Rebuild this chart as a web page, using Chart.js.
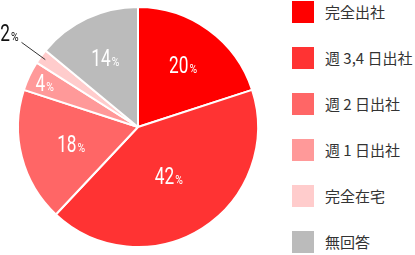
<!DOCTYPE html>
<html><head><meta charset="utf-8">
<script src="https://cdn.jsdelivr.net/npm/chart.js@4/dist/chart.umd.min.js"></script>
<style>
html,body{margin:0;padding:0;background:#fff;width:415px;height:255px;overflow:hidden;}
#wrap{position:absolute;left:0;top:0;width:280px;height:255px;}
#legend{position:absolute;left:292px;top:0;width:123px;height:255px;font-family:"Noto Sans CJK JP","Noto Sans",sans-serif;font-size:15px;color:#333;}
.item{position:absolute;left:0;height:22px;white-space:nowrap;}
.sw{position:absolute;left:0;top:0;width:22px;height:22px;}
.tx{position:absolute;left:33px;top:0;line-height:22px;}
</style></head>
<body>
<div id="wrap"><canvas id="c"></canvas></div>
<div id="legend"></div>
<script>
const categories = ["完全出社", "週 3,4 日出社", "週 2 日出社", "週 1 日出社", "完全在宅", "無回答"];
const values = [20, 42, 18, 4, 2, 14];
const colors = ["#ff0000", "#ff3333", "#ff6666", "#ff9999", "#ffcccc", "#bbbbbb"];

const pctLabels = {
  id: 'pctLabels',
  afterDatasetsDraw(chart, args, opts) {
    const ctx = chart.ctx;
    const meta = chart.getDatasetMeta(0);
    const data = chart.data.datasets[0].data;
    const sx = opts.squeeze;
    meta.data.forEach((arc, i) => {
      const p = arc.getProps(['x', 'y', 'startAngle', 'endAngle', 'outerRadius'], true);
      const mid = (p.startAngle + p.endAngle) / 2;
      const num = String(data[i]);
      ctx.save();
      ctx.textBaseline = 'alphabetic';
      ctx.textAlign = 'left';
      ctx.font = opts.numFont; const wN = ctx.measureText(num).width * sx;
      ctx.font = opts.pctFont; const wP = ctx.measureText('%').width * opts.pctSqueeze;
      const gap = 1;
      let left, base;
      if (opts.outside.includes(i)) {
        const r1 = p.outerRadius * 0.955, r2 = p.outerRadius * 1.2;
        const x1 = p.x + Math.cos(mid) * r1, y1 = p.y + Math.sin(mid) * r1;
        const x2 = p.x + Math.cos(mid) * r2, y2 = p.y + Math.sin(mid) * r2;
        ctx.strokeStyle = '#333'; ctx.lineWidth = 1;
        ctx.beginPath(); ctx.moveTo(x1, y1); ctx.lineTo(x2, y2); ctx.stroke();
        left = x2 - 3 - (wN + gap + wP);
        base = y2 - 1;
        ctx.fillStyle = '#111';
      } else {
        const r = p.outerRadius * opts.radii[i];
        const cx = p.x + Math.cos(mid) * r, cy = p.y + Math.sin(mid) * r;
        left = cx - (wN + gap + wP) / 2;
        base = cy + 8;
        ctx.fillStyle = '#fff';
      }
      ctx.save();
      ctx.translate(left, base); ctx.scale(sx, 1);
      ctx.font = opts.numFont; ctx.fillText(num, 0, 0);
      ctx.restore();
      ctx.save();
      ctx.translate(left + wN + gap, base); ctx.scale(opts.pctSqueeze, 1);
      ctx.font = opts.pctFont; ctx.fillText('%', 0, 0);
      ctx.restore();
      ctx.restore();
    });
  }
};

new Chart(document.getElementById('c'), {
  type: 'pie',
  data: {
    labels: categories,
    datasets: [{
      data: values,
      backgroundColor: colors,
      borderColor: '#ffffff',
      borderWidth: 2
    }]
  },
  options: {
    responsive: true,
    maintainAspectRatio: false,
    animation: false,
    layout: { padding: { top: 6, bottom: 7, left: 0, right: 4 } },
    plugins: {
      legend: { display: false },
      tooltip: { enabled: false },
      pctLabels: {
        numFont: '24px Roboto, "DejaVu Sans", sans-serif',
        pctFont: '13px Roboto, "DejaVu Sans", sans-serif',
        squeeze: 0.72,
        pctSqueeze: 0.8,
        radii: [0.64, 0.48, 0.575, 0.86, 1, 0.64],
        outside: [4]
      }
    }
  },
  plugins: [pctLabels]
});

const legend = document.getElementById('legend');
categories.forEach((name, i) => {
  const item = document.createElement('div');
  item.className = 'item';
  item.style.top = (1 + i * 46) + 'px';
  const sw = document.createElement('div');
  sw.className = 'sw';
  sw.style.background = colors[i];
  const tx = document.createElement('div');
  tx.className = 'tx';
  tx.textContent = name;
  item.appendChild(sw); item.appendChild(tx);
  legend.appendChild(item);
});
</script>
</body></html>
